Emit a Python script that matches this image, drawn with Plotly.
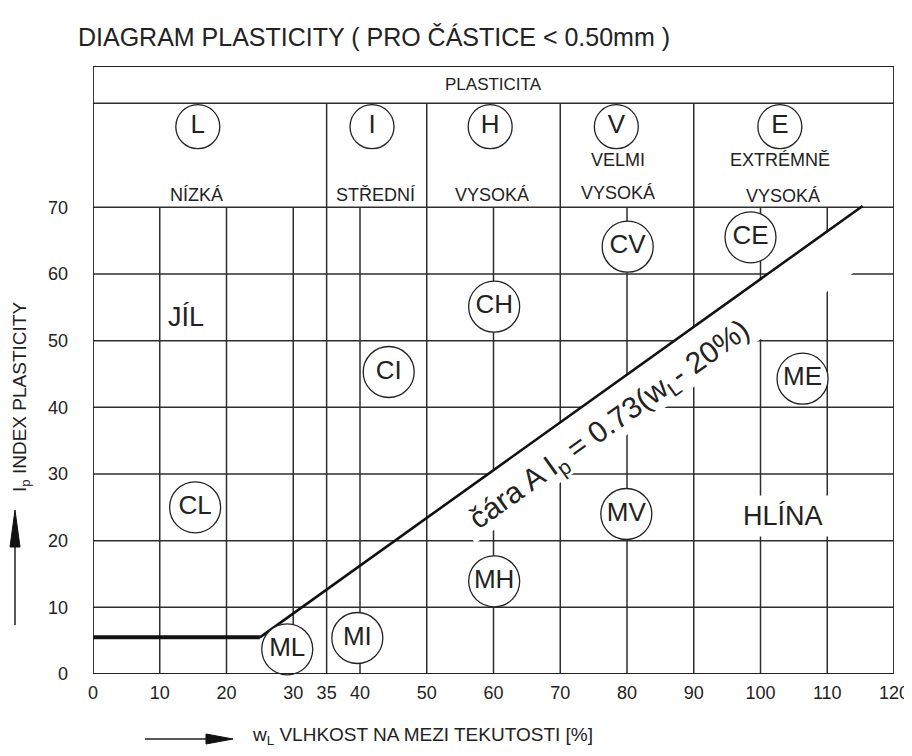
import math
import plotly.graph_objects as go

# ---------------- data ----------------
x_ticks = [0, 10, 20, 30, 35, 40, 50, 60, 70, 80, 90, 100, 110, 120]
y_ticks = [0, 10, 20, 30, 40, 50, 60, 70]

zone_bounds = [0, 35, 50, 70, 90, 120]
zone_codes = ["L", "I", "H", "V", "E"]
zone_code_x = [15.7, 41.8, 59.5, 78.4, 102.9]
zone_code_y = [82.1, 82.1, 82.1, 82.1, 82.1]
zone_name_text = ["NÍZKÁ", "STŘEDNÍ", "VYSOKÁ", "VELMI", "VYSOKÁ", "EXTRÉMNĚ", "VYSOKÁ"]
zone_name_x = [15.5, 42.3, 59.7, 78.7, 78.7, 102.9, 103.3]
zone_name_y = [71.8, 71.8, 71.8, 77.1, 72.1, 77.1, 71.7]

group_codes = ["CL", "CI", "CH", "CV", "CE", "ML", "MI", "MH", "MV", "ME"]
group_x = [15.3, 44.3, 60.1, 80.1, 98.5, 29.1, 39.6, 60.1, 79.9, 106.3]
group_y = [25.0, 45.3, 55.1, 64.1, 65.5, 3.7, 5.4, 13.9, 24.0, 44.3]

region_text = ["JÍL", "HLÍNA"]
region_x = [14.0, 103.4]
region_y = [53.6, 23.7]

# A-line (horizontal part then diagonal)
line_x = [0, 25.0, 115.3]
line_y = [5.5, 5.5, 70.2]

x_max = 120
y_top = 91.2
header_y = 85.6

FONT = "Liberation Sans, Arial, sans-serif"
INK = "#222222"

# page body has an 8px margin; lay the figure out so it lands on the reference pixels
OFF = 8
W, H = 904, 740
ml, mr, mt, mb = 85, 18, 58, 74
pw, ph = W - ml - mr, H - mt - mb
sx = pw / x_max
sy = ph / y_top


def px2paper(px, py):
    """reference-pixel -> paper coordinates"""
    return (px - OFF - ml) / pw, (H - mb - (py - OFF)) / ph


fig = go.Figure()

# ---------------- grid shapes ----------------
shapes = []
gl = dict(color="#2e2e2e", width=1.5)
for xv in x_ticks[1:-1]:
    shapes.append(dict(type="line", xref="x", yref="y", x0=xv, x1=xv, y0=0, y1=y_ticks[-1],
                       line=gl, layer="below"))
for xv in zone_bounds[1:-1]:
    shapes.append(dict(type="line", xref="x", yref="y", x0=xv, x1=xv, y0=y_ticks[-1], y1=header_y,
                       line=gl, layer="below"))
for yv in y_ticks[1:]:
    shapes.append(dict(type="line", xref="x", yref="y", x0=0, x1=x_max, y0=yv, y1=yv,
                       line=gl, layer="below"))
shapes.append(dict(type="line", xref="x", yref="y", x0=0, x1=x_max, y0=header_y, y1=header_y,
                   line=gl, layer="below"))
shapes.append(dict(type="rect", xref="x", yref="y", x0=0, x1=x_max, y0=0, y1=y_top,
                   line=dict(color=INK, width=1.8), layer="above"))

# axis-title arrows (drawn as shapes in paper coordinates)
def arrow_shapes(tail, tip, head_len=27, head_w=10):
    (x0, y0), (x1, y1) = px2paper(*tail), px2paper(*tip)
    tdx, tdy = tip[0] - tail[0], tip[1] - tail[1]
    L = math.hypot(tdx, tdy)
    ux, uy = tdx / L, tdy / L
    bx, by = tip[0] - ux * head_len, tip[1] - uy * head_len
    p1 = px2paper(bx - uy * head_w / 2, by + ux * head_w / 2)
    p2 = px2paper(bx + uy * head_w / 2, by - ux * head_w / 2)
    pb = px2paper(bx, by)
    return [
        dict(type="line", xref="paper", yref="paper", x0=x0, y0=y0, x1=pb[0], y1=pb[1],
             line=dict(color=INK, width=1.5)),
        dict(type="path", xref="paper", yref="paper",
             path=f"M {x1} {y1} L {p1[0]} {p1[1]} L {p2[0]} {p2[1]} Z",
             fillcolor="#111111", line=dict(color="#111111", width=1)),
    ]


shapes += arrow_shapes((145, 739), (233, 739))
shapes += arrow_shapes((15, 625), (15, 510), head_len=37, head_w=10)

# ---------------- white band under line label ----------------
m = (line_y[2] - line_y[1]) / (line_x[2] - line_x[1])


def diag_y(xv):
    return line_y[1] + m * (xv - line_x[1])


def diag_x(yv):
    return line_x[1] + (yv - line_y[1]) / m


ang = math.atan2(m * sy, sx)
off_px = 49
ox = off_px * math.sin(ang) / sx
oy = -off_px * math.cos(ang) / sy
xa = 53
ya = diag_y(xa)
ytop_b = y_ticks[-1] - 0.3
xb = diag_x(ytop_b)
xr = x_max - 0.3
far_y_at_xr = (ya + oy) + m * (xr - (xa + ox))
band_x = [xa, xb, min(xb + 12.7, xr), xr, xa + ox, xa]
band_y = [ya, ytop_b, ytop_b, far_y_at_xr, ya + oy, ya]
fig.add_trace(go.Scatter(x=band_x, y=band_y, mode="lines", fill="toself", fillcolor="white",
                         line=dict(width=0, color="white"), hoverinfo="skip", showlegend=False))

# ---------------- A-line ----------------
fig.add_trace(go.Scatter(x=line_x[:2], y=line_y[:2], mode="lines",
                         line=dict(color="#111111", width=4), showlegend=False, cliponaxis=False))
fig.add_trace(go.Scatter(x=line_x[1:], y=line_y[1:], mode="lines",
                         line=dict(color="#111111", width=2.6), showlegend=False, cliponaxis=False))

# ---------------- circled labels ----------------
fig.add_trace(go.Scatter(x=group_x, y=group_y, mode="markers+text", text=group_codes,
                         textposition="middle center",
                         textfont=dict(family=FONT, size=26, color=INK),
                         marker=dict(size=51, color="white", line=dict(color=INK, width=1.3)),
                         showlegend=False, cliponaxis=False))
fig.add_trace(go.Scatter(x=zone_code_x, y=zone_code_y, mode="markers+text", text=zone_codes,
                         textposition="middle center",
                         textfont=dict(family=FONT, size=26, color=INK),
                         marker=dict(size=44, color="white", line=dict(color=INK, width=1.3)),
                         showlegend=False, cliponaxis=False))

# ---------------- annotations ----------------
ann = []
ann.append(dict(x=x_max / 2, y=(header_y + y_top) / 2, xref="x", yref="y", text="PLASTICITA",
                showarrow=False, font=dict(family=FONT, size=17, color=INK)))
for t, xv, yv in zip(zone_name_text, zone_name_x, zone_name_y):
    ann.append(dict(x=xv, y=yv, xref="x", yref="y", text=t, showarrow=False,
                    font=dict(family=FONT, size=18, color=INK)))
for t, xv, yv in zip(region_text, region_x, region_y):
    ann.append(dict(x=xv, y=yv, xref="x", yref="y", text=t, showarrow=False,
                    bgcolor="white", borderpad=5,
                    font=dict(family=FONT, size=27, color=INK)))

# line label
ann.append(dict(x=77.4, y=37.3, xref="x", yref="y",
                text="čára A I<sub>p</sub> = 0.73(w<sub>L</sub>- 20%)",
                textangle=-math.degrees(ang), showarrow=False,
                font=dict(family=FONT, size=30, color=INK)))

# title
tx, ty = px2paper(76, 37)
ann.append(dict(x=tx, y=ty, xref="paper", yref="paper",
                xanchor="left", yanchor="middle", showarrow=False,
                text="DIAGRAM PLASTICITY ( PRO ČÁSTICE &lt; 0.50mm )",
                font=dict(family=FONT, size=25, color=INK)))

# x axis title
tx, ty = px2paper(250, 736)
ann.append(dict(x=tx, y=ty, xref="paper", yref="paper", xanchor="left", yanchor="middle",
                showarrow=False, text="w<sub>L</sub> VLHKOST NA MEZI TEKUTOSTI [%]",
                font=dict(family=FONT, size=19, color=INK)))
# y axis title
tyx, tyy = px2paper(21, 397)
ann.append(dict(x=tyx, y=tyy, xref="paper", yref="paper", xanchor="center", yanchor="middle",
                textangle=-90, showarrow=False,
                text="I<sub>p</sub> INDEX PLASTICITY",
                font=dict(family=FONT, size=19, color=INK)))

fig.update_layout(
    width=W, height=H,
    margin=dict(l=ml, r=mr, t=mt, b=mb, autoexpand=False),
    paper_bgcolor="white", plot_bgcolor="white",
    shapes=shapes, annotations=ann, showlegend=False,
    xaxis=dict(range=[0, x_max], tickvals=x_ticks, showgrid=False, zeroline=False,
               showline=False, ticks="", ticklabelstandoff=6, automargin=False,
               tickfont=dict(family=FONT, size=18, color=INK)),
    yaxis=dict(range=[0, y_top], tickvals=y_ticks, showgrid=False, zeroline=False,
               showline=False, ticks="", ticklabelstandoff=24, automargin=False,
               tickfont=dict(family=FONT, size=18, color=INK)),
)

fig.write_html("out.html")
